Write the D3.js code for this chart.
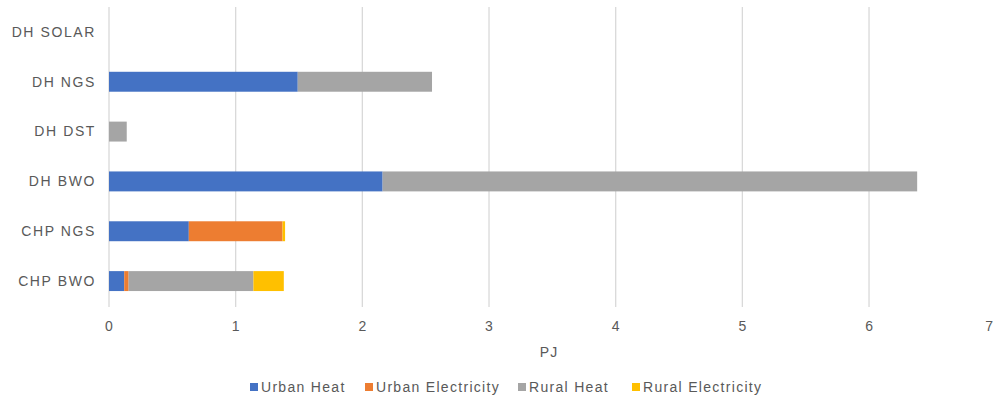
<!DOCTYPE html>
<html><head><meta charset="utf-8">
<script src="https://cdn.jsdelivr.net/npm/d3@7"></script>
<style>body{margin:0;background:#fff;}svg{display:block;font-family:"Liberation Sans",Arial,sans-serif;}</style>
</head><body>
<svg id="c" width="993" height="398"></svg>
<script>
const categories = ["DH SOLAR","DH NGS","DH DST","DH BWO","CHP NGS","CHP BWO"];
const seriesNames = ["Urban Heat","Urban Electricity","Rural Heat","Rural Electricity"];
const colors = ["#4472C4","#ED7D31","#A5A5A5","#FFC000"];
const urbanHeat = [0, 1.49, 0, 2.16, 0.63, 0.12];
const urbanElectricity = [0, 0, 0, 0, 0.74, 0.035];
const ruralHeat = [0, 1.06, 0.14, 4.22, 0, 0.985];
const ruralElectricity = [0, 0, 0, 0, 0.02, 0.24];
const xTicks = [0,1,2,3,4,5,6,7];
const axisTitle = "PJ";

const svg = d3.select("#c");
const x = d3.scaleLinear().domain([0,7]).range([109, 995.7]);
const y = d3.scaleBand().domain(categories).range([7, 306]).paddingInner(0.6).paddingOuter(0.3);
const txt = "#595959";

// gridlines
svg.append("g").selectAll("line").data(xTicks).join("line")
  .attr("x1", d=>x(d)).attr("x2", d=>x(d)).attr("y1", 7).attr("y2", 307)
  .attr("stroke", "#D9D9D9").attr("stroke-width", 1.3);

const table = categories.map((c,i)=>({cat:c, "Urban Heat":urbanHeat[i], "Urban Electricity":urbanElectricity[i], "Rural Heat":ruralHeat[i], "Rural Electricity":ruralElectricity[i]}));
const stack = d3.stack().keys(seriesNames)(table);

svg.append("g").selectAll("g").data(stack).join("g")
  .attr("fill", (d,i)=>colors[i])
  .selectAll("rect").data(d=>d).join("rect")
  .attr("x", d=>x(d[0])).attr("width", d=>Math.max(0, x(d[1])-x(d[0])))
  .attr("y", d=>y(d.data.cat)).attr("height", y.bandwidth());

// category labels
svg.append("g").selectAll("text").data(categories).join("text")
  .attr("x", 96).attr("y", d=>y(d)+y.bandwidth()/2).attr("dy","0.35em")
  .attr("text-anchor","end").attr("font-size",14).attr("fill",txt)
  .attr("letter-spacing","1.6px").text(d=>d);

// x tick labels
svg.append("g").selectAll("text").data(xTicks).join("text")
  .attr("x", d=> d===7 ? 993 : x(d)).attr("y", 331)
  .attr("text-anchor", d=> d===7 ? "end" : "middle")
  .attr("font-size",14).attr("fill",txt).text(d=>d);

svg.append("text").attr("x", 549).attr("y", 357).attr("text-anchor","middle")
  .attr("font-size",14).attr("fill",txt).attr("letter-spacing","1px").text(axisTitle);

// legend
const legX = [250, 365, 518, 632];
const lg = svg.append("g").selectAll("g").data(seriesNames).join("g")
  .attr("transform",(d,i)=>`translate(${legX[i]},387)`);
lg.append("rect").attr("x",0).attr("y",-4).attr("width",8).attr("height",8).attr("fill",(d,i)=>colors[i]);
lg.append("text").attr("x",11).attr("y",0).attr("dy","0.35em").attr("font-size",14)
  .attr("letter-spacing","1.3px").attr("fill",txt).text(d=>d);
</script>
</body></html>
